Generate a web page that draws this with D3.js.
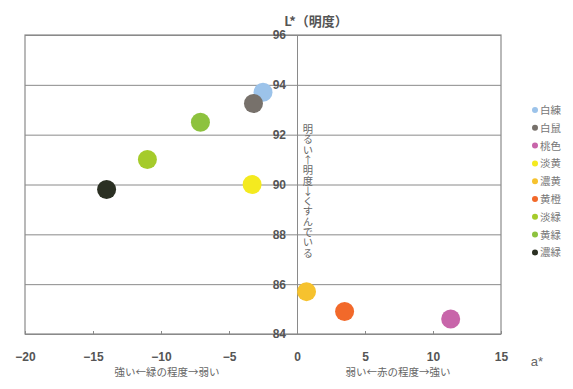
<!DOCTYPE html>
<html><head><meta charset="utf-8">
<script src="https://cdn.jsdelivr.net/npm/d3@7"></script>
<style>
html,body{margin:0;padding:0;background:#fff;}
svg{display:block;}
text{font-family:"Liberation Sans","Noto Sans CJK JP",sans-serif;}
.jp{font-family:"Noto Sans CJK JP",sans-serif;}
</style></head>
<body><svg id="c" width="573" height="389"></svg>
<script>
const names = ["白練","白鼠","桃色","淡黄","濃黄","黄橙","淡緑","黄緑","濃緑"];
const aValues = [-2.5, -3.2, 11.3, -3.3, 0.7, 3.5, -11.0, -7.1, -14.0];
const lValues = [93.7, 93.25, 84.6, 90.0, 85.7, 84.9, 91.0, 92.5, 89.8];
const colors = ["#9cc3ea","#77716b","#c865aa","#f4ea1f","#f6c22e","#f2692a","#a5cb2b","#8dc23e","#2b3023"];
const xTicks = [-20,-15,-10,-5,0,5,10,15];
const yTicks = [84,86,88,90,92,94,96];

const svg = d3.select("#c");
const x = d3.scaleLinear().domain([-20,15]).range([25,501]);
const y = d3.scaleLinear().domain([84,96]).range([334,35]);

// grid lines
svg.append("g").attr("transform",`translate(${x(-20)},0)`)
  .call(d3.axisLeft(y).tickValues(yTicks).tickSize(-(x(15)-x(-20))).tickFormat(""))
  .call(g=>g.select(".domain").remove())
  .call(g=>g.selectAll("line").attr("stroke","#8a8a8a").attr("stroke-width",1));

// frame
svg.append("rect").attr("x",x(-20)).attr("y",y(96)).attr("width",x(15)-x(-20)).attr("height",y(84)-y(96))
  .attr("fill","none").attr("stroke","#8a8a8a").attr("stroke-width",1.2);

// y axis (at a*=0)
svg.append("g").attr("transform",`translate(${x(0)},0)`)
  .call(d3.axisLeft(y).tickValues(yTicks).tickSize(0).tickPadding(11).tickFormat(d3.format("d")))
  .call(g=>g.select(".domain").attr("stroke","#8a8a8a"))
  .call(g=>g.selectAll("text").attr("font-size",12).attr("font-weight","bold").attr("fill","#555"));

// x axis
svg.append("g").attr("transform",`translate(0,${y(84)})`)
  .call(d3.axisBottom(x).tickValues(xTicks).tickSizeInner(-3).tickSizeOuter(0).tickPadding(18).tickFormat(d3.format("d")))
  .call(g=>g.select(".domain").remove())
  .call(g=>g.selectAll("line").attr("stroke","#8a8a8a"))
  .call(g=>g.selectAll("text").attr("font-size",12).attr("font-weight","bold").attr("fill","#555"));

// points
svg.append("g").selectAll("circle").data(names).join("circle")
  .attr("cx",(d,i)=>x(aValues[i])).attr("cy",(d,i)=>y(lValues[i]))
  .attr("r",9.5).attr("fill",(d,i)=>colors[i]);

// title & labels
svg.append("text").attr("class","jp").attr("x",316).attr("y",26).attr("text-anchor","middle")
  .attr("font-size",13).attr("font-weight","bold").attr("fill","#555").text("L*（明度）");
svg.append("text").attr("x",537).attr("y",366).attr("text-anchor","middle")
  .attr("font-size",13).attr("fill","#666").text("a*");
svg.append("text").attr("class","jp").attr("x",167).attr("y",376).attr("text-anchor","middle")
  .attr("font-size",10.5).attr("fill","#666").text("強い←緑の程度→弱い");
svg.append("text").attr("class","jp").attr("x",398).attr("y",376).attr("text-anchor","middle")
  .attr("font-size",10.5).attr("fill","#666").text("弱い←赤の程度→強い");
svg.append("text").attr("class","jp").attr("x",308).attr("y",124)
  .attr("font-size",10.3).attr("fill","#666")
  .style("writing-mode","vertical-rl").style("text-orientation","upright")
  .text("明るい↑明度↓くすんでいる");

// legend
const leg = svg.append("g").selectAll("g").data(names).join("g")
  .attr("transform",(d,i)=>`translate(535,${110+i*17.8})`);
leg.append("circle").attr("r",3).attr("fill",(d,i)=>colors[i]);
leg.append("text").attr("class","jp").attr("x",5).attr("y",4).attr("font-size",10.5).attr("fill","#777").text(d=>d);
</script></body></html>
